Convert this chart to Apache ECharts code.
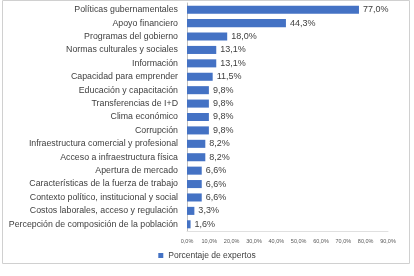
<!DOCTYPE html>
<html><head><meta charset="utf-8">
<script src="https://cdn.jsdelivr.net/npm/echarts@6/dist/echarts.min.js"></script>
<style>html,body{margin:0;padding:0;background:#fff}#c{width:414px;height:276px}</style>
</head><body><div id="c"></div>
<script>
var categories = ["Políticas gubernamentales","Apoyo financiero","Programas del gobierno","Normas culturales y sociales","Información","Capacidad para emprender","Educación y capacitación","Transferencias de I+D","Clima económico","Corrupción","Infraestructura comercial y profesional","Acceso a infraestructura física","Apertura de mercado","Características de la fuerza de trabajo","Contexto político, institucional y social","Costos laborales, acceso y regulación","Percepción de composición de la población"];
var values = [77.0,44.3,18.0,13.1,13.1,11.5,9.8,9.8,9.8,9.8,8.2,8.2,6.6,6.6,6.6,3.3,1.6];
var seriesName = "Porcentaje de expertos";
var xTicks = [0,10,20,30,40,50,60,70,80,90];
function pct(v){return v.toFixed(1).replace('.',',')+'%';}
var chart = echarts.init(document.getElementById('c'));
chart.setOption({
  animation:false,
  textStyle:{fontFamily:'Liberation Sans'},
  graphic:[{type:'rect',shape:{x:2.5,y:0.5,width:407,height:263},style:{fill:'none',stroke:'#d0d0d0',lineWidth:1}}],
  grid:{left:187,right:26,top:3,height:228},
  legend:{bottom:11,left:'center',itemWidth:5,itemHeight:5,itemGap:4,icon:'rect',
    textStyle:{fontSize:8.5,color:'#404040',fontFamily:'Liberation Sans'},data:[seriesName]},
  xAxis:{type:'value',min:xTicks[0],max:xTicks[xTicks.length-1],interval:10,
    axisLine:{show:true,lineStyle:{color:'#e0e0e0'}},axisTick:{show:false},splitLine:{show:false},
    axisLabel:{fontSize:5.5,color:'#595959',margin:7,formatter:function(v){return pct(v);}}},
  yAxis:{type:'category',data:categories,inverse:true,
    axisLine:{show:true,lineStyle:{color:'#bfbfbf'}},axisTick:{show:false},
    axisLabel:{fontSize:8.8,color:'#404040',margin:9}},
  series:[{name:seriesName,type:'bar',data:values,barCategoryGap:'40%',
    itemStyle:{color:'#4472C4'},
    label:{show:true,position:'right',distance:4,fontSize:9,color:'#404040',formatter:function(p){return pct(p.value);}}}]
});
</script></body></html>
